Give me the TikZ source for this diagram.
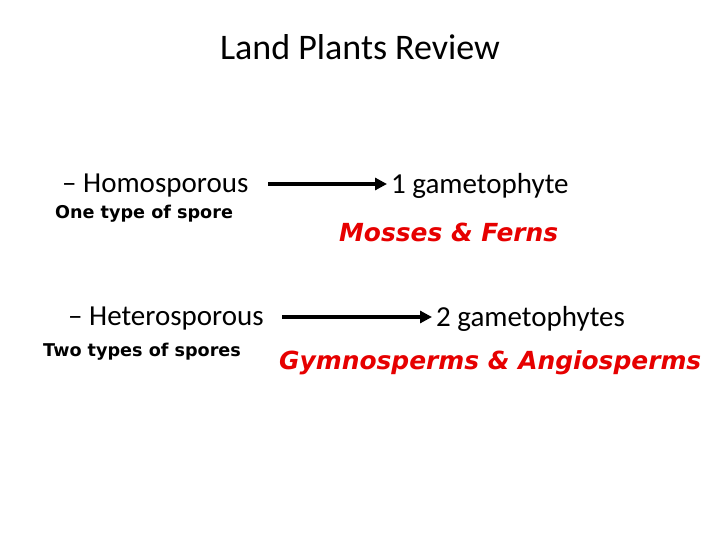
\documentclass[tikz,border=0pt]{standalone}
\usepackage{fontspec}
\setmainfont{Carlito}
\newfontfamily\vfont{DejaVu Sans}
\usetikzlibrary{arrows.meta}
\definecolor{rd}{RGB}{230,0,0}
\begin{document}
\begin{tikzpicture}[x=1pt,y=-1pt,
  txt/.style={inner sep=0pt,anchor=west,font=\fontsize{29}{33}\selectfont},
  sub/.style={inner sep=0pt,anchor=west,font=\vfont\bfseries\fontsize{17.6}{20}\selectfont},
  grp/.style={inner sep=0pt,anchor=west,text=rd,font=\vfont\bfseries\itshape\fontsize{24.9}{28}\selectfont},
  arr/.style={line width=3.8pt,-{Triangle[length=12pt,width=12pt]},shorten >=4pt}]
\useasboundingbox (0,0) rectangle (720,540);
\node[inner sep=0pt,font=\fontsize{36}{40}\selectfont] (title) at (360,47) {Land Plants Review};
\node[txt] (homo) at (62,186) {– Homosporous};
\node[sub] (one) at (55,214) {One type of spore};
\node[txt] (g1) at (391,186) {1 gametophyte};
\node[grp] (mf) at (339,232) {Mosses \& Ferns};
\node[txt] (hetero) at (68,319) {– Heterosporous};
\node[sub] (two) at (43,352) {Two types of spores};
\node[txt] (g2) at (436,319) {2 gametophytes};
\node[grp] (ga) at (279,363) {Gymnosperms \& Angiosperms};
\coordinate (a1s) at (268,184);
\coordinate (a2s) at (282,317);
\draw[arr] (a1s) -- (a1s -| g1.west);
\draw[arr] (a2s) -- (a2s -| g2.west);
\end{tikzpicture}
\end{document}
